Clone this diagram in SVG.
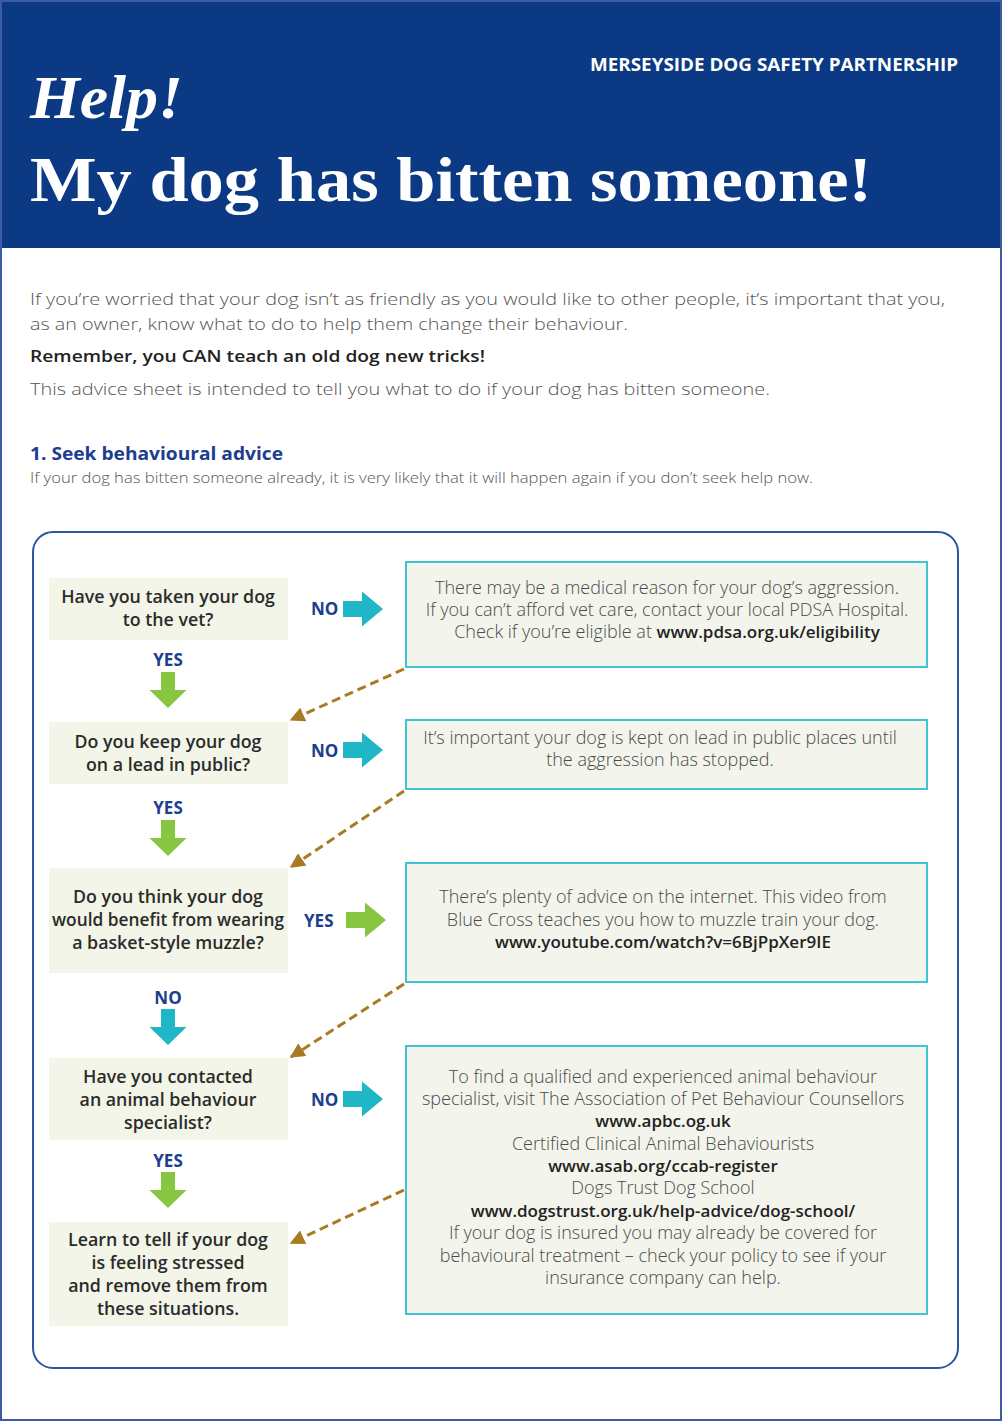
<svg xmlns="http://www.w3.org/2000/svg" width="1002" height="1422" viewBox="0 0 1002 1422">
<style>
.q{font-family:"Open Sans","Liberation Sans",sans-serif;font-weight:600;font-size:17.8px;fill:#2b2b2b;text-anchor:middle}
.r{font-family:"Open Sans","Liberation Sans",sans-serif;font-weight:300;font-size:18px;fill:#4a4a4a;text-anchor:middle}
.rb{font-family:"Open Sans","Liberation Sans",sans-serif;font-weight:600;font-size:17px;fill:#222;text-anchor:middle}
.lab{font-family:"Open Sans","Liberation Sans",sans-serif;font-weight:700;font-size:17px;fill:#1b3e8e}
.qbox{fill:#f2f5e8}
.rbox{fill:#f3f5ec;stroke:#3fc4d0;stroke-width:2}
.dash{fill:none;stroke:#a87a22;stroke-width:3;stroke-dasharray:9 5}
.body{font-family:"Open Sans","Liberation Sans",sans-serif;font-weight:300;font-size:17px;fill:#555}
.green{fill:#88c540}
.teal{fill:#1fb6c5}
</style>
<defs>
<path id="ra" d="M0,-8 H19 V-17.5 L40,0 L19,17.5 V8 H0 Z"/>
<path id="da" d="M-7,0 H7 V18 H18.5 L0,36 L-18.5,18 H-7 Z"/>
<marker id="ah" viewBox="0 0 10 10" refX="9" refY="5" markerWidth="5" markerHeight="5" orient="auto" markerUnits="strokeWidth">
<path d="M0,0 L10,5 L0,10 Z" fill="#a87a22"/>
</marker>
</defs>
<rect x="0" y="0" width="1002" height="1422" fill="#ffffff"/>
<g id="header">
<rect x="1" y="1" width="1000" height="247" fill="#0b3984"/>
<text x="590" y="71" font-family="'Open Sans','Liberation Sans',sans-serif" font-weight="700" font-size="17" fill="#ffffff" textLength="368" lengthAdjust="spacingAndGlyphs">MERSEYSIDE DOG SAFETY PARTNERSHIP</text>
<text x="30" y="118" font-family="'Liberation Serif',serif" font-style="italic" font-weight="700" font-size="62" fill="#ffffff" textLength="153" lengthAdjust="spacingAndGlyphs">Help!</text>
<text x="30" y="201" font-family="'Liberation Serif',serif" font-weight="700" font-size="64" fill="#ffffff" textLength="842" lengthAdjust="spacingAndGlyphs">My dog has bitten someone!</text>
</g>
<rect x="1" y="1" width="1000" height="1419" fill="none" stroke="#3c5aa6" stroke-width="2"/>
<g id="intro">
<text class="body" x="30" y="305" textLength="915" lengthAdjust="spacingAndGlyphs">If you’re worried that your dog isn’t as friendly as you would like to other people, it’s important that you,</text>
<text class="body" x="30" y="330" textLength="598" lengthAdjust="spacingAndGlyphs">as an owner, know what to do to help them change their behaviour.</text>
<text x="30" y="362" font-family="'Open Sans','Liberation Sans',sans-serif" font-weight="600" font-size="17" fill="#222" textLength="455" lengthAdjust="spacingAndGlyphs">Remember, you CAN teach an old dog new tricks!</text>
<text class="body" x="30" y="395" textLength="740" lengthAdjust="spacingAndGlyphs">This advice sheet is intended to tell you what to do if your dog has bitten someone.</text>
<text x="30" y="460" font-family="'Open Sans','Liberation Sans',sans-serif" font-weight="700" font-size="18.5" fill="#1b3e8e" textLength="253" lengthAdjust="spacingAndGlyphs">1.  Seek behavioural advice</text>
<text x="30" y="483" font-family="'Open Sans','Liberation Sans',sans-serif" font-weight="300" font-size="14" fill="#555" textLength="783" lengthAdjust="spacingAndGlyphs">If your dog has bitten someone already, it is very likely that it will happen again if you don’t seek help now.</text>
</g>
<rect id="frame" x="33" y="532" width="925" height="836" rx="20" fill="none" stroke="#2d55a0" stroke-width="2"/>
<g id="q1"><rect class="qbox" x="49" y="578" width="239" height="62"/>
<text class="q" x="168" y="603">Have you taken your dog</text><text class="q" x="168" y="626">to the vet?</text></g>
<g id="q2"><rect class="qbox" x="49" y="722" width="239" height="62"/>
<text class="q" x="168" y="748">Do you keep your dog</text><text class="q" x="168" y="771">on a lead in public?</text></g>
<g id="q3"><rect class="qbox" x="49" y="868" width="239" height="105"/>
<text class="q" x="168" y="903">Do you think your dog</text><text class="q" x="168" y="926" textLength="232" lengthAdjust="spacingAndGlyphs">would benefit from wearing</text><text class="q" x="168" y="949">a basket-style muzzle?</text></g>
<g id="q4"><rect class="qbox" x="49" y="1058" width="239" height="82"/>
<text class="q" x="168" y="1083">Have you contacted</text><text class="q" x="168" y="1106">an animal behaviour</text><text class="q" x="168" y="1129">specialist?</text></g>
<g id="q5"><rect class="qbox" x="49" y="1222" width="239" height="104"/>
<text class="q" x="168" y="1246">Learn to tell if your dog</text><text class="q" x="168" y="1269">is feeling stressed</text><text class="q" x="168" y="1292">and remove them from</text><text class="q" x="168" y="1315">these situations.</text></g>
<g id="a1"><rect class="rbox" x="406" y="562" width="521" height="105"/>
<text class="r" x="667" y="594">There may be a medical reason for your dog’s aggression.</text>
<text class="r" x="667" y="616">If you can’t afford vet care, contact your local PDSA Hospital.</text>
<text class="r" x="667" y="638">Check if you’re eligible at <tspan style="font-weight:600;fill:#222;font-size:17px">www.pdsa.org.uk/eligibility</tspan></text></g>
<g id="a2"><rect class="rbox" x="406" y="720" width="521" height="69"/>
<text class="r" x="660" y="744">It’s important your dog is kept on lead in public places until</text>
<text class="r" x="660" y="766">the aggression has stopped.</text></g>
<g id="a3"><rect class="rbox" x="406" y="863" width="521" height="119"/>
<text class="r" x="663" y="903">There’s plenty of advice on the internet. This video from</text>
<text class="r" x="663" y="926">Blue Cross teaches you how to muzzle train your dog.</text>
<text class="rb" x="663" y="948">www.youtube.com/watch?v=6BjPpXer9IE</text></g>
<g id="a4"><rect class="rbox" x="406" y="1046" width="521" height="268"/>
<text class="r" x="663" y="1083">To find a qualified and experienced animal behaviour</text>
<text class="r" x="663" y="1105">specialist, visit The Association of Pet Behaviour Counsellors</text>
<text class="rb" x="663" y="1127">www.apbc.og.uk</text>
<text class="r" x="663" y="1150">Certified Clinical Animal Behaviourists</text>
<text class="rb" x="663" y="1172">www.asab.org/ccab-register</text>
<text class="r" x="663" y="1194">Dogs Trust Dog School</text>
<text class="rb" x="663" y="1217">www.dogstrust.org.uk/help-advice/dog-school/</text>
<text class="r" x="663" y="1239">If your dog is insured you may already be covered for</text>
<text class="r" x="663" y="1262">behavioural treatment – check your policy to see if your</text>
<text class="r" x="663" y="1284">insurance company can help.</text></g>
<g id="connectors">
<text class="lab" x="311" y="615">NO</text><use href="#ra" class="teal" x="343" y="609"/>
<text class="lab" x="311" y="757">NO</text><use href="#ra" class="teal" x="343" y="750"/>
<text class="lab" x="304" y="927">YES</text><use href="#ra" class="green" x="346" y="920"/>
<text class="lab" x="311" y="1106">NO</text><use href="#ra" class="teal" x="343" y="1099"/>
<text class="lab" x="168" y="666" text-anchor="middle">YES</text><use href="#da" class="green" x="168" y="672"/>
<text class="lab" x="168" y="814" text-anchor="middle">YES</text><use href="#da" class="green" x="168" y="820"/>
<text class="lab" x="168" y="1004" text-anchor="middle">NO</text><use href="#da" class="teal" x="168" y="1009"/>
<text class="lab" x="168" y="1167" text-anchor="middle">YES</text><use href="#da" class="green" x="168" y="1172"/>
<path class="dash" d="M404,669 L291,720" marker-end="url(#ah)"/>
<path class="dash" d="M404,791 L291,867" marker-end="url(#ah)"/>
<path class="dash" d="M404,984 L291,1057" marker-end="url(#ah)"/>
<path class="dash" d="M404,1190 L291,1243" marker-end="url(#ah)"/>
</g>
</svg>
